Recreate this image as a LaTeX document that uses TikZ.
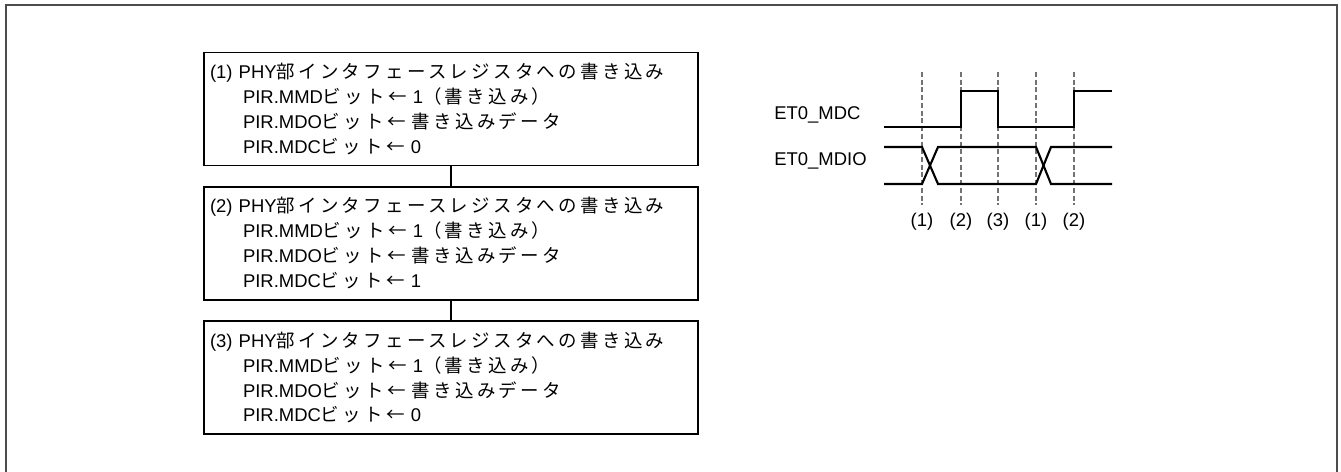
\documentclass[tikz,border=0pt]{standalone}
\usepackage{fontspec}
\setmainfont{Liberation Sans}
\newfontfamily\jpfont[LetterSpace=18]{Noto Sans CJK JP}
\usetikzlibrary{positioning}
\newcommand\ja[1]{{\jpfont #1}}
\newcommand\ind{\hspace*{0.66cm}}

\begin{document}
\begin{tikzpicture}[x=0.02cm,y=-0.02cm,
  node distance=0.39cm,
  regbox/.style={rectangle,draw=black,line width=1pt,minimum width=9.88cm,minimum height=2.26cm,text width=9.64cm,inner xsep=0.12cm,align=left,font=\fontsize{10.5pt}{14.2pt}\selectfont},
  link/.style={draw=black,line width=1pt},
  signal/.style={line width=1.2pt},
  guide/.style={draw=black!55,line width=0.6pt,dash pattern=on 2.8pt off 1.6pt},
  frameline/.style={draw=black!70,line width=0.9pt},
  lbl/.style={font=\fontsize{10.5pt}{12pt}\selectfont,inner sep=0pt}]
  \useasboundingbox (0,0) rectangle (1341,472);
  \draw[frameline] (6,480) -- (6,5) -- (1337,5) -- (1337,480);

  \node[regbox] (wr1) at (451,109) {(1) PHY\ja{部インタフェースレジスタへの書き込み}\\
    \ind PIR.MMD\ja{ビット←} 1\ja{（書き込み）}\\
    \ind PIR.MDO\ja{ビット←} \ja{書き込みデータ}\\
    \ind PIR.MDC\ja{ビット←} 0};
  \node[regbox,below=of wr1] (wr2) {(2) PHY\ja{部インタフェースレジスタへの書き込み}\\
    \ind PIR.MMD\ja{ビット←} 1\ja{（書き込み）}\\
    \ind PIR.MDO\ja{ビット←} \ja{書き込みデータ}\\
    \ind PIR.MDC\ja{ビット←} 1};
  \node[regbox,below=of wr2] (wr3) {(3) PHY\ja{部インタフェースレジスタへの書き込み}\\
    \ind PIR.MMD\ja{ビット←} 1\ja{（書き込み）}\\
    \ind PIR.MDO\ja{ビット←} \ja{書き込みデータ}\\
    \ind PIR.MDC\ja{ビット←} 0};
  \draw[link] (wr1) -- (wr2);
  \draw[link] (wr2) -- (wr3);

  \node[lbl,anchor=west] (mdc) at (774,115) {ET0\_MDC};
  \node[lbl,anchor=west] (mdio) at (774,161) {ET0\_MDIO};
  \foreach \x/\t [count=\i] in {922/(1),961/(2),998/(3),1036/(1),1074/(2)} {
    \draw[guide] (\x,72) -- (\x,205);
    \node[lbl] (tick\i) at (\x,222) {\t};
  }
  \draw[signal] (884,127) -| (961,91) -| (998,127) -| (1074,91) -- (1112,91);
  \draw[signal] (884,147) -- (922,147) -- (938,184) -- (1036,184) -- (1051,147) -- (1112,147);
  \draw[signal] (884,184) -- (922,184) -- (938,147) -- (1036,147) -- (1051,184) -- (1112,184);
\end{tikzpicture}
\end{document}
